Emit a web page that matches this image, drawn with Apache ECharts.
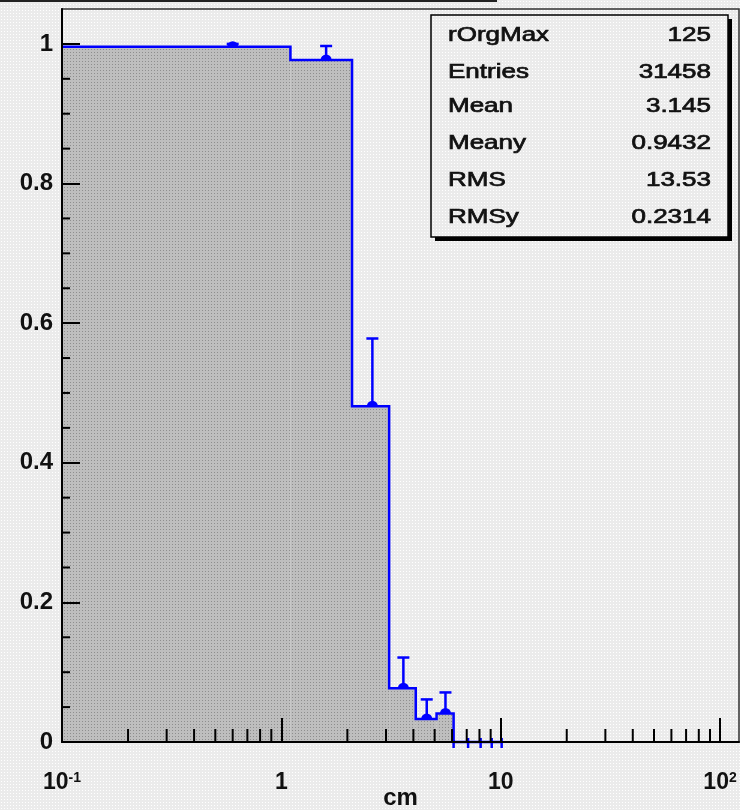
<!DOCTYPE html>
<html>
<head>
<meta charset="utf-8">
<script src="https://cdn.jsdelivr.net/npm/echarts@6/dist/echarts.min.js"></script>
<style>
  html, body { margin: 0; padding: 0; }
  #chart { width: 740px; height: 810px; }
</style>
</head>
<body>
<div id="chart"></div>
<script>
// ---------------- data ----------------
const binEdges   = [0.1, 1.1, 2.1, 3.1, 4.1, 5.1, 6.1, 7.1, 8.1, 9.1, 10.1];
const binCenters = [0.6, 1.6, 2.6, 3.6, 4.6, 5.6, 6.6, 7.6, 8.6, 9.6];
const binValues  = [0.996, 0.977, 0.481, 0.077, 0.033, 0.041, 0, 0, 0, 0];
const binErrors  = [0.004, 0.020, 0.097, 0.044, 0.028, 0.030, 0, 0, 0, 0];

const xTickValues = [0.1, 1, 10, 100];
const xTickLabels = [['10', '-1'], ['1', ''], ['10', ''], ['10', '2']];
const xMinorTicks = [0.2, 0.3, 0.4, 0.5, 0.6, 0.7, 0.8, 0.9,
                     2, 3, 4, 5, 6, 7, 8, 9,
                     20, 30, 40, 50, 60, 70, 80, 90];
const yTickValues = [0, 0.2, 0.4, 0.6, 0.8, 1];
const yTickLabels = ['0', '0.2', '0.4', '0.6', '0.8', '1'];
const yMinorTicks = [0.05, 0.1, 0.15, 0.25, 0.3, 0.35, 0.45, 0.5, 0.55,
                     0.65, 0.7, 0.75, 0.85, 0.9, 0.95];

const statLabels = ['rOrgMax', 'Entries', 'Mean', 'Meany', 'RMS', 'RMSy'];
const statValues = ['125', '31458', '3.145', '0.9432', '13.53', '0.2314'];
const xAxisTitle = 'cm';

// ---------------- patterns ----------------
function makeTile(base, dot) {
  const c = document.createElement('canvas');
  c.width = 3; c.height = 3;
  const g = c.getContext('2d');
  g.fillStyle = base; g.fillRect(0, 0, 3, 3);
  g.fillStyle = dot; g.fillRect(1, 1, 1, 1);
  return c;
}
const bgTile = makeTile('#ebebeb', '#ffffff');
const fillTile = makeTile('#bebebe', '#8e8e8e');
document.body.style.backgroundColor = '#eeeeee';
document.body.style.backgroundImage = 'url(' + bgTile.toDataURL() + ')';
const bgPattern = { image: bgTile, repeat: 'repeat' };
const fillPattern = { image: fillTile, repeat: 'repeat' };

const BLUE = '#0000ff';
const FONT = 'Liberation Sans';

const chart = echarts.init(document.getElementById('chart'), null, { renderer: 'canvas' });

function xLabelFmt(v) {
  const i = xTickValues.findIndex(t => Math.abs(Math.log10(t) - Math.log10(v)) < 1e-6);
  if (i < 0) return '';
  const [b, s] = xTickLabels[i];
  return s ? '{b|' + b + '}{s|' + s + '}' : '{b|' + b + '}';
}
function yLabelFmt(v) {
  const i = yTickValues.findIndex(t => Math.abs(t - v) < 1e-9);
  return i < 0 ? '' : yTickLabels[i];
}

const histData = binCenters.map((c, i) => [c, binValues[i], binErrors[i]]);

const statGraphics = [];
statGraphics.push({ type: 'rect', shape: { x: 435, y: 19, width: 297, height: 222 },
  style: { fill: '#000' }, z: 100 });
statGraphics.push({ type: 'rect', shape: { x: 431, y: 15, width: 297, height: 222 },
  style: { fill: bgPattern, stroke: '#000', lineWidth: 1.5 }, z: 101 });
const rowY = [35, 72, 106, 143, 180, 217];
const statFont = 'normal 20px ' + FONT;
statLabels.forEach((t, i) => {
  statGraphics.push({ type: 'text', x: 448, y: rowY[i], scaleX: 1.3, z: 102,
    style: { text: t, fill: '#111', font: statFont, textAlign: 'left', textVerticalAlign: 'middle',
             stroke: '#111', lineWidth: 0.7 } });
  statGraphics.push({ type: 'text', x: 711, y: rowY[i], scaleX: 1.3, z: 102,
    style: { text: statValues[i], fill: '#111', font: statFont, textAlign: 'right', textVerticalAlign: 'middle',
             stroke: '#111', lineWidth: 0.7 } });
});
statGraphics.push({ type: 'line', shape: { x1: 0, y1: 1, x2: 497, y2: 1 },
  style: { stroke: '#222', lineWidth: 2 }, z: 100 });

const option = {
  animation: false,
  backgroundColor: 'transparent',
  grid: { left: 62, top: 9, width: 677, height: 733, show: true, containLabel: false,
          outerBoundsMode: 'none',
          borderColor: '#333', borderWidth: 1.5, backgroundColor: 'transparent' },
  xAxis: {
    type: 'log', logBase: 10, min: 0.1, max: 122, z: 10,
    name: xAxisTitle, nameLocation: 'middle', nameGap: 44, nameMoveOverlap: false,
    nameTextStyle: { fontFamily: FONT, fontSize: 24, fontWeight: 'bold', color: '#111' },
    axisLine: { show: true, onZero: false, lineStyle: { color: '#000', width: 2 } },
    axisTick: { show: true, inside: true, length: 24, customValues: xTickValues,
                lineStyle: { color: '#000', width: 2 } },
    axisLabel: { show: true, margin: 29, customValues: xTickValues, formatter: xLabelFmt,
      rich: {
        b: { fontFamily: FONT, fontSize: 23, fontWeight: 'bold', color: '#111' },
        s: { fontFamily: FONT, fontSize: 14, fontWeight: 'bold', color: '#111', verticalAlign: 'top' }
      } },
    splitLine: { show: false }, minorTick: { show: false }
  },
  yAxis: {
    type: 'value', min: 0, max: 1.05, interval: 0.2, z: 10,
    axisLine: { show: true, onZero: false, lineStyle: { color: '#000', width: 2 } },
    axisTick: { show: true, inside: true, length: 18, customValues: yTickValues,
                lineStyle: { color: '#000', width: 2 } },
    axisLabel: { show: true, margin: 9, customValues: yTickValues, formatter: yLabelFmt,
                 fontFamily: FONT, fontSize: 24, fontWeight: 'bold', color: '#111' },
    splitLine: { show: false }
  },
  series: [
    { // error bars + markers (drawn first; lower part hidden by fill like ROOT)
      type: 'custom', z: 2, clip: false, silent: true,
      encode: { x: 0, y: 1 },
      data: histData,
      renderItem: function (params, api) {
        const v = api.value(1), e = api.value(2), c = api.value(0);
        if (!(v > 0)) return null;
        const p = api.coord([c, v]);
        const pt = api.coord([c, v + e]);
        const pb = api.coord([c, Math.max(0, v - e)]);
        return { type: 'group', children: [
          { type: 'line', shape: { x1: p[0], y1: pb[1], x2: p[0], y2: pt[1] },
            style: { stroke: BLUE, lineWidth: 2.5 } },
          { type: 'line', shape: { x1: p[0] - 6, y1: pt[1], x2: p[0] + 6, y2: pt[1] },
            style: { stroke: BLUE, lineWidth: 2.5 } },
          { type: 'circle', shape: { cx: p[0], cy: p[1], r: 5.5 }, style: { fill: BLUE } }
        ] };
      }
    },
    { // filled bins
      type: 'custom', z: 3, clip: true, silent: true,
      encode: { x: 0, y: 1 },
      data: histData,
      renderItem: function (params, api) {
        const i = params.dataIndex;
        const v = binValues[i];
        if (!(v > 0)) return null;
        const a = api.coord([binEdges[i], v]);
        const b = api.coord([binEdges[i + 1], 0]);
        return { type: 'rect', shape: { x: a[0], y: a[1], width: b[0] - a[0], height: b[1] - a[1] },
                 style: { fill: fillPattern } };
      }
    },
    { // step outline
      type: 'custom', z: 4, clip: false, silent: true,
      encode: { x: 0, y: 1 },
      data: [histData[0]],
      renderItem: function (params, api) {
        const pts = [];
        for (let i = 0; i < binValues.length; i++) {
          pts.push(api.coord([binEdges[i], binValues[i]]));
          pts.push(api.coord([binEdges[i + 1], binValues[i]]));
        }
        const children = [{ type: 'polyline', shape: { points: pts },
          style: { stroke: BLUE, lineWidth: 2.5, fill: null } }];
        for (let i = 1; i < binEdges.length; i++) {
          const hi = Math.max(binValues[i - 1], binValues[i] || 0);
          if (hi > 0) continue;
          const p = api.coord([binEdges[i], 0]);
          children.push({ type: 'line', shape: { x1: p[0], y1: p[1] - 4, x2: p[0], y2: p[1] + 6 },
            style: { stroke: BLUE, lineWidth: 2.5 } });
        }
        const last = binValues.findIndex(v => v === 0);
        if (last > 0) {
          const p = api.coord([binEdges[last], 0]);
          children.push({ type: 'line', shape: { x1: p[0], y1: p[1] - 2, x2: p[0], y2: p[1] + 6 },
            style: { stroke: BLUE, lineWidth: 2.5 } });
        }
        return { type: 'group', children: children };
      }
    },
    { // x minor ticks
      type: 'custom', z: 12, clip: false, silent: true,
      encode: { x: 0, y: 1 },
      data: xMinorTicks.map(t => [t, 0]),
      renderItem: function (params, api) {
        const p = api.coord([api.value(0), 0]);
        return { type: 'line', shape: { x1: p[0], y1: p[1], x2: p[0], y2: p[1] - 13 },
                 style: { stroke: '#000', lineWidth: 2 } };
      }
    },
    { // y minor ticks
      type: 'custom', z: 12, clip: false, silent: true,
      encode: { x: 0, y: 1 },
      data: yMinorTicks.map(t => [0.1, t]),
      renderItem: function (params, api) {
        const p = api.coord([0.1, api.value(1)]);
        return { type: 'line', shape: { x1: p[0], y1: p[1], x2: p[0] + 8, y2: p[1] },
                 style: { stroke: '#000', lineWidth: 2 } };
      }
    }
  ],
  graphic: statGraphics
};
chart.setOption(option);
</script>
</body>
</html>
